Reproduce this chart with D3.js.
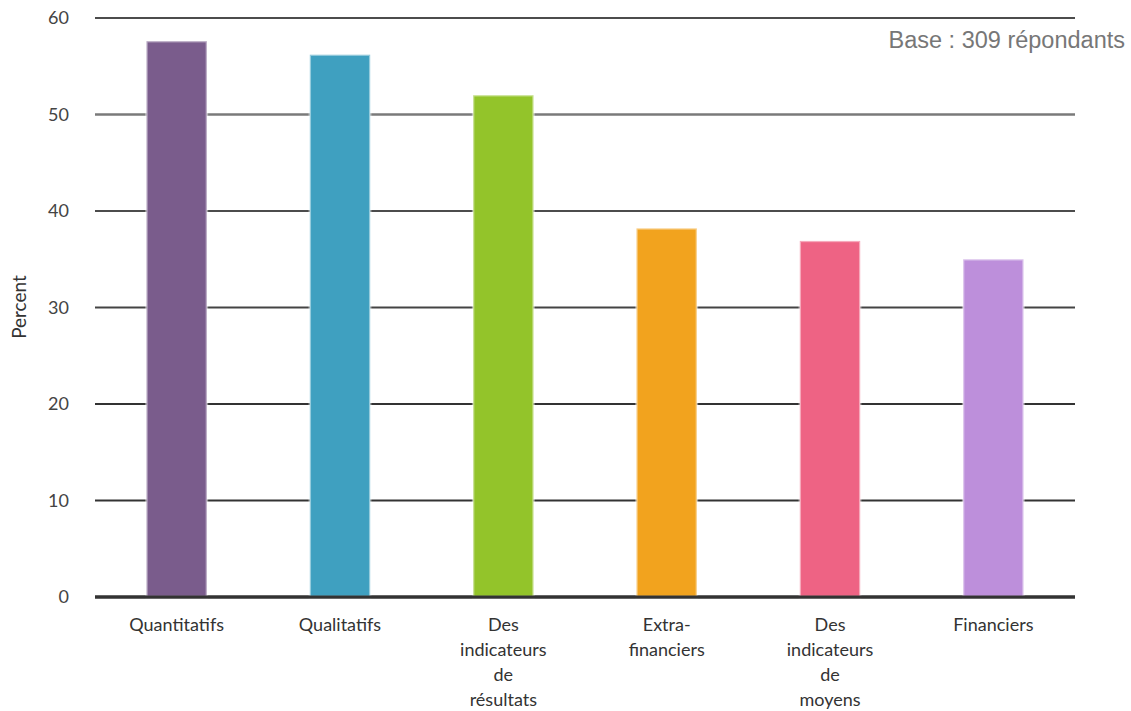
<!DOCTYPE html>
<html>
<head>
<meta charset="utf-8">
<script src="https://cdn.jsdelivr.net/npm/d3@7"></script>
<style>
  body { margin: 0; background: #fff; }
  svg { display: block; }
</style>
</head>
<body>
<svg id="chart" width="1131" height="711"></svg>
<script>
const categories = ["Quantitatifs", "Qualitatifs", "Des indicateurs de résultats", "Extra-financiers", "Des indicateurs de moyens", "Financiers"];
const categoryLines = [["Quantitatifs"], ["Qualitatifs"], ["Des", "indicateurs", "de", "résultats"], ["Extra-", "financiers"], ["Des", "indicateurs", "de", "moyens"], ["Financiers"]];
const values = [57.6, 56.2, 52.0, 38.2, 36.9, 35.0];
const colors = ["#7a5c8c", "#3fa0c0", "#93c42a", "#f2a31e", "#ee6384", "#bd8fdb"];
const yTicks = [0, 10, 20, 30, 40, 50, 60];
const gridColors = ["#333", "#333", "#333", "#444", "#111", "#7a7a7a", "#111"];
const gridWidths = [3, 2, 2, 2, 1.5, 2.5, 1.5];
const yLabel = "Percent";
const note = "Base : 309 répondants";

(function() {
const svg = d3.select("#chart");
const mLeft = 95, mRight = 1075, mTop = 18, mBottom = 597;
const font = "Lato, 'Noto Sans', sans-serif";

const x = d3.scaleBand().domain(categories).range([mLeft, mRight]).paddingInner(0.63).paddingOuter(0.315);
const y = d3.scaleLinear().domain([0, 60]).range([mBottom, mTop]);

// gridlines
svg.append("g").selectAll("line").data(yTicks).join("line")
  .attr("x1", mLeft).attr("x2", mRight)
  .attr("y1", d => y(d)).attr("y2", d => y(d))
  .attr("stroke", (d, i) => gridColors[i])
  .attr("stroke-width", (d, i) => gridWidths[i]);

// y tick labels
svg.append("g").selectAll("text").data(yTicks).join("text")
  .attr("x", 69).attr("y", d => y(d)).attr("dy", "0.35em")
  .attr("text-anchor", "end")
  .attr("font-family", font)
  .attr("font-size", 18).attr("fill", "#444")
  .text(d => d);

// y label
svg.append("text")
  .attr("transform", `translate(26,307) rotate(-90)`)
  .attr("text-anchor", "middle")
  .attr("font-family", font)
  .attr("font-size", 19).attr("fill", "#333")
  .text(yLabel);

// bars
svg.append("g").selectAll("rect").data(values).join("rect")
  .attr("x", (d, i) => x(categories[i]))
  .attr("width", x.bandwidth())
  .attr("y", d => y(d))
  .attr("height", d => y(0) - y(d))
  .attr("fill", (d, i) => colors[i])
  .attr("stroke", "rgba(255,255,255,0.45)")
  .attr("stroke-width", 2.5);

// baseline redrawn on top
svg.append("line")
  .attr("x1", mLeft).attr("x2", mRight).attr("y1", y(0)).attr("y2", y(0))
  .attr("stroke", "#333").attr("stroke-width", 3);

// x labels
const xl = svg.append("g").selectAll("text").data(categoryLines).join("text")
  .attr("x", (d, i) => x(categories[i]) + x.bandwidth() / 2)
  .attr("y", 631)
  .attr("text-anchor", "middle")
  .attr("font-family", font)
  .attr("font-size", 18).attr("fill", "#333");
xl.each(function(lines, i) {
  d3.select(this).selectAll("tspan").data(lines).join("tspan")
    .attr("x", x(categories[i]) + x.bandwidth() / 2)
    .attr("dy", (d, j) => j === 0 ? 0 : 25)
    .text(d => d);
});

// note
svg.append("text")
  .attr("x", 1125).attr("y", 48)
  .attr("text-anchor", "end")
  .attr("font-family", "'Liberation Sans', Arial, sans-serif")
  .attr("font-size", 23.5).attr("fill", "#777")
  .text(note);
})();
</script>
</body>
</html>
